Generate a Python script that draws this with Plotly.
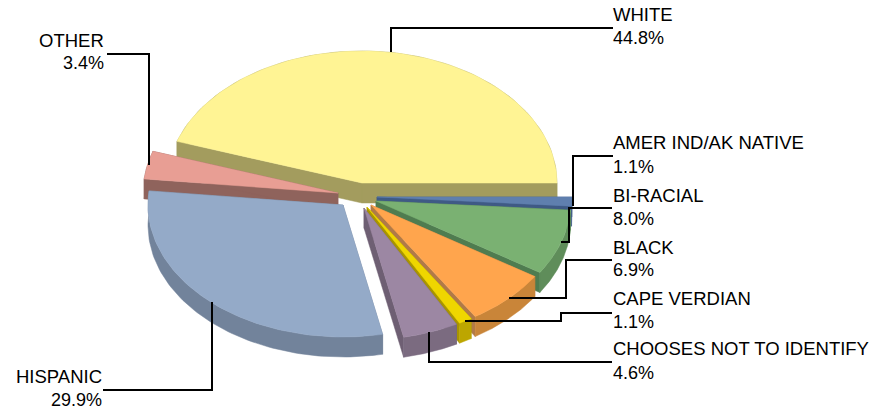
import numpy as np
import plotly.graph_objects as go

# data
categories = ["WHITE", "AMER IND/AK NATIVE", "BI-RACIAL", "BLACK", "CAPE VERDIAN",
              "CHOOSES NOT TO IDENTIFY", "HISPANIC", "OTHER"]
values = [44.8, 1.1, 8.0, 6.9, 1.1, 4.6, 29.9, 3.4]

# style
pull_x = [2, 17, 16, 11, 7, 4, -17, -22]
pull_y = [-15, -1, 3, 7, 9, 10, 7, -5]
top_colors = ["#FFF494", "#5F7FAE", "#7AB172", "#FFA54D", "#EFD600", "#9C87A3", "#94AAC8", "#E89E94"]
rim_colors = ["#A39C5E", "#4A6690", "#5F8D5A", "#C98539", "#BDA600", "#7B6B80", "#72839B", "#8F635C"]
cut_colors = ["#A39C5E", "#3F5A85", "#4F7C50", "#B07A48", "#A89400", "#6E5F73", "#72839B", "#8F635C"]
draw_order = [0, 7, 6, 1, 2, 3, 4, 5]

# geometry of the pseudo-3D pie, in page pixels
CX, CY, RX, RY, DEPTH = 360, 198, 195, 132, 20
FONT = "Liberation Sans"
FS_NAME = 18.5
FS_VALUE = 18

# label placement: (x, name y, value y, anchor)
label_pos = {
    "WHITE": (611, 14, 38, "left"),
    "AMER IND/AK NATIVE": (611, 142, 167, "left"),
    "BI-RACIAL": (611, 195, 219, "left"),
    "BLACK": (611, 247, 270, "left"),
    "CAPE VERDIAN": (611, 298, 322, "left"),
    "CHOOSES NOT TO IDENTIFY": (611, 348, 373, "left"),
    "HISPANIC": (104, 376, 400, "right"),
    "OTHER": (106, 40, 63, "right"),
}
leaders = {
    "WHITE": ([391, 391, 613], [52, 28, 28]),
    "AMER IND/AK NATIVE": ([573, 573, 613], [206, 156, 156]),
    "BI-RACIAL": ([612, 569, 569, 561], [208, 208, 242, 242]),
    "BLACK": ([612, 566, 566, 509], [260, 260, 298, 298]),
    "CAPE VERDIAN": ([612, 561, 561, 465], [313, 313, 321, 321]),
    "CHOOSES NOT TO IDENTIFY": ([612, 429, 429], [362, 362, 332]),
    "HISPANIC": ([212, 212, 103], [302, 390, 390]),
    "OTHER": ([149, 149, 107], [165, 54, 54]),
}

fig = go.Figure()


def poly(xs, ys, color):
    fig.add_trace(go.Scatter(x=list(xs) + [xs[0]], y=list(ys) + [ys[0]], mode="lines",
                             fill="toself", fillcolor=color,
                             line=dict(color=color, width=0.5),
                             hoverinfo="skip", showlegend=False))


fractions = np.array(values) / sum(values)
sweeps = fractions * 360
starts = 90 - sweeps[0] + np.concatenate([[0], np.cumsum(sweeps)[:-1]])

for i in draw_order:
    a0, a1 = np.radians(starts[i]), np.radians(starts[i] + sweeps[i])
    ax = CX + pull_x[i]
    ay = CY + pull_y[i]
    t = np.linspace(a0, a1, 80)
    ox = ax + RX * np.sin(t)
    oy = ay - RY * np.cos(t)
    # radial cut faces
    poly([ax, ox[0], ox[0], ax], [ay, oy[0], oy[0] + DEPTH, ay + DEPTH], cut_colors[i])
    poly([ax, ox[-1], ox[-1], ax], [ay, oy[-1], oy[-1] + DEPTH, ay + DEPTH], cut_colors[i])
    # rim
    poly(np.concatenate([ox, ox[::-1]]), np.concatenate([oy, oy[::-1] + DEPTH]), rim_colors[i])
    # top
    poly(np.concatenate([[ax], ox]), np.concatenate([[ay], oy]), top_colors[i])

for name in categories:
    lx, ly = leaders[name]
    fig.add_trace(go.Scatter(x=lx, y=ly, mode="lines", line=dict(color="black", width=2),
                             hoverinfo="skip", showlegend=False))

annotations = []
for name, val in zip(categories, values):
    x, y1, y2, anc = label_pos[name]
    for txt, y, fs in ((name, y1, FS_NAME), (f"{val:.1f}%", y2, FS_VALUE)):
        annotations.append(dict(x=x, y=y, text=txt, showarrow=False, xanchor=anc, yanchor="middle",
                                xref="x", yref="y", font=dict(family=FONT, size=fs, color="black")))

fig.update_layout(
    width=876, height=413, margin=dict(l=0, r=0, t=0, b=0),
    paper_bgcolor="white", plot_bgcolor="white", showlegend=False,
    xaxis=dict(range=[0, 876], visible=False, fixedrange=True),
    yaxis=dict(range=[413, 0], visible=False, fixedrange=True),
    annotations=annotations,
)
fig.write_html("out.html", config={"displayModeBar": False},
               post_script="document.body.style.margin='0';document.body.style.overflow='hidden';")
